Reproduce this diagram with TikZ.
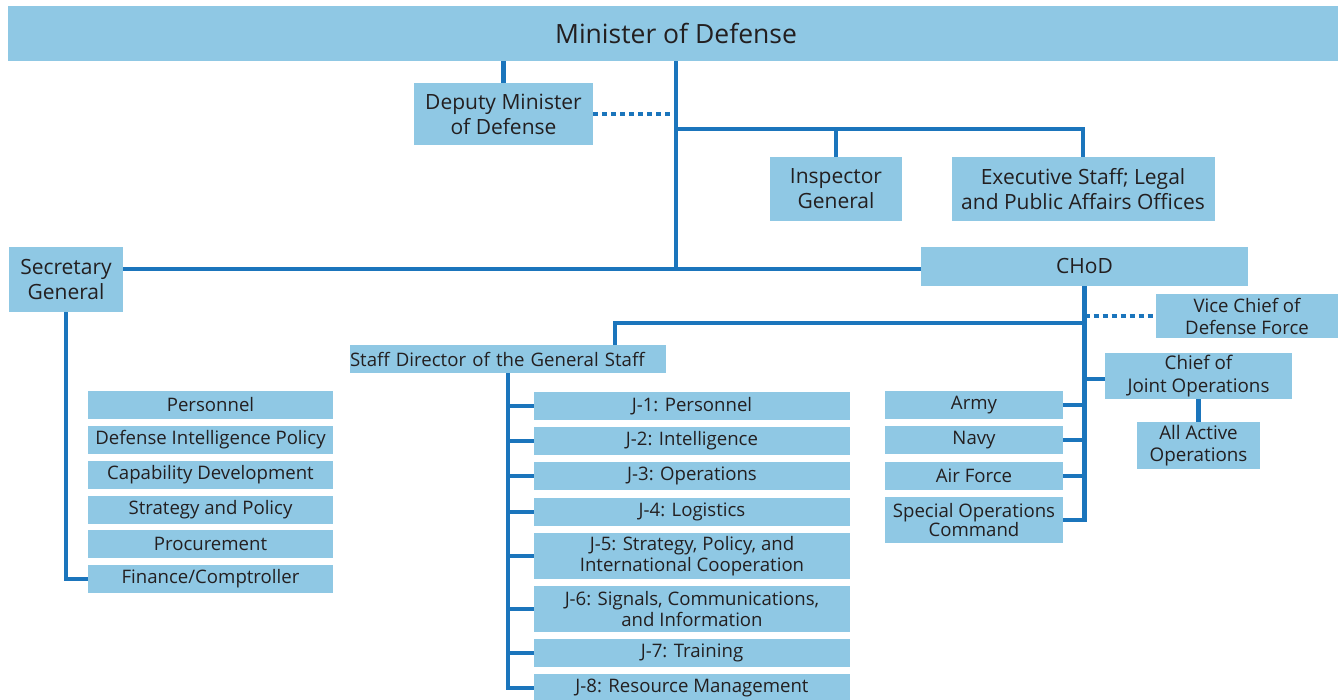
\documentclass[tikz,border=0pt]{standalone}
\usepackage{fontspec}
\setmainfont{Open Sans}
\definecolor{boxblue}{HTML}{8FC8E4}
\definecolor{lineblue}{HTML}{1B75BC}
\definecolor{ink}{HTML}{231F20}
\begin{document}
\begin{tikzpicture}[x=1pt,y=-1pt,
  box/.style={fill=boxblue, inner sep=0pt, align=center, text=ink,
    font=\fontsize{18.6}{21}\selectfont},
  bigbox/.style={box, font=\fontsize{21}{25}\selectfont},
  link/.style={draw=lineblue, line width=4.5pt, line join=miter},
  dotlink/.style={link, dash pattern=on 5pt off 4pt}]
\useasboundingbox (0,0) rectangle (1338,700);

% top level
\node[box, font=\fontsize{26.5}{30}\selectfont, minimum width=1336pt, minimum height=55pt] (min) at (676,33.5) {Minister of Defense};

% second level
\node[bigbox, minimum width=179pt, minimum height=62pt] (dep) at (503.5,114) {Deputy Minister\\of Defense};
\node[bigbox, minimum width=132pt, minimum height=64pt] (insp) at (836,189) {Inspector\\General};
\node[bigbox, minimum width=263pt, minimum height=64pt] (exec) at (1083,189) {Executive Staff; Legal\\and Public Affairs Offices};
\node[bigbox, minimum width=114pt, minimum height=65pt] (sg) at (66,279.5) {Secretary\\General};
\node[bigbox, minimum width=327pt, minimum height=39pt] (chod) at (1084.5,266.5) {CHoD};

% under the CHoD
\node[box, font=\fontsize{18.6}{22}\selectfont, minimum width=182pt, minimum height=44pt] (vice) at (1247,316) {Vice Chief of\\Defense Force};
\node[box, font=\fontsize{18.8}{23}\selectfont, minimum width=187pt, minimum height=46pt] (cjo) at (1198.5,376) {Chief of\\Joint Operations};
\node[box, font=\fontsize{18.8}{22}\selectfont, minimum width=123pt, minimum height=47pt] (aao) at (1198.5,445.5) {All Active\\Operations};
\node[box, minimum width=178pt, minimum height=28pt] (army) at (974,405) {Army};
\node[box, minimum width=178pt, minimum height=28pt] (navy) at (974,440) {Navy};
\node[box, minimum width=178pt, minimum height=28pt] (airf) at (974,476) {Air Force};
\node[box, font=\fontsize{18.6}{19}\selectfont, minimum width=178pt, minimum height=46pt] (soc) at (974,520) {Special Operations\\Command};

% staff director and joint staff
\node[box, align=left, text width=316pt, minimum height=28pt] (sd) at (508,359) {Staff Director of the General Staff};
\node[box, minimum width=316pt, minimum height=28pt] (j1) at (692,406) {J-1: Personnel};
\node[box, minimum width=316pt, minimum height=28pt] (j2) at (692,441) {J-2: Intelligence};
\node[box, minimum width=316pt, minimum height=28pt] (j3) at (692,476) {J-3: Operations};
\node[box, minimum width=316pt, minimum height=28pt] (j4) at (692,512) {J-4: Logistics};
\node[box, minimum width=316pt, minimum height=46pt] (j5) at (692,556) {J-5: Strategy, Policy, and\\International Cooperation};
\node[box, minimum width=316pt, minimum height=46pt] (j6) at (692,609) {J-6: Signals, Communications,\\and Information};
\node[box, minimum width=316pt, minimum height=28pt] (j7) at (692,653) {J-7: Training};
\node[box, minimum width=316pt, minimum height=28pt] (j8) at (692,688) {J-8: Resource Management};

% secretary general's offices
\node[box, minimum width=245pt, minimum height=28pt] (per) at (210.5,405) {Personnel};
\node[box, minimum width=245pt, minimum height=28pt] (dip) at (210.5,440) {Defense Intelligence Policy};
\node[box, minimum width=245pt, minimum height=28pt] (cap) at (210.5,475) {Capability Development};
\node[box, minimum width=245pt, minimum height=28pt] (sap) at (210.5,510) {Strategy and Policy};
\node[box, minimum width=245pt, minimum height=28pt] (proc) at (210.5,544) {Procurement};
\node[box, minimum width=245pt, minimum height=28pt] (fin) at (210.5,579) {Finance/Comptroller};

% junction points
\coordinate (hub) at (676,269);
\coordinate (hub2) at (676,129);
\coordinate (sdj) at (615,323);

% connectors
\draw[link] (dep.north |- min.south) -- (dep.north);
\draw[link] (min.south -| hub) -- (hub);
\draw[dotlink] (dep.east) -- (dep.east -| hub);
\draw[link] (hub2) -| (exec.north);
\draw[link] (hub2 -| insp.north) -- (insp.north);
\draw[link] (sg.east |- hub) -- (chod.west |- hub);
\draw[link] (sg.south) |- (fin.west);
\draw[link] (chod.south) |- (soc.east);
\draw[dotlink] (chod.south |- vice.west) -- (vice.west);
\draw[link] (sdj -| chod.south) -| (sdj |- sd.north);
\draw[link] (chod.south |- 0,379) -- (cjo.west |- 0,379);
\draw[link] (cjo.south) -- (aao.north);
\foreach \n in {army,navy,airf}
  \draw[link] (\n.east) -- (\n.east -| chod.south);
\draw[link] (sd.south) |- (j8.west);
\foreach \n in {j1,j2,j3,j4,j5,j6,j7}
  \draw[link] (\n.west) -- (\n.west -| sd.south);
\end{tikzpicture}
\end{document}
